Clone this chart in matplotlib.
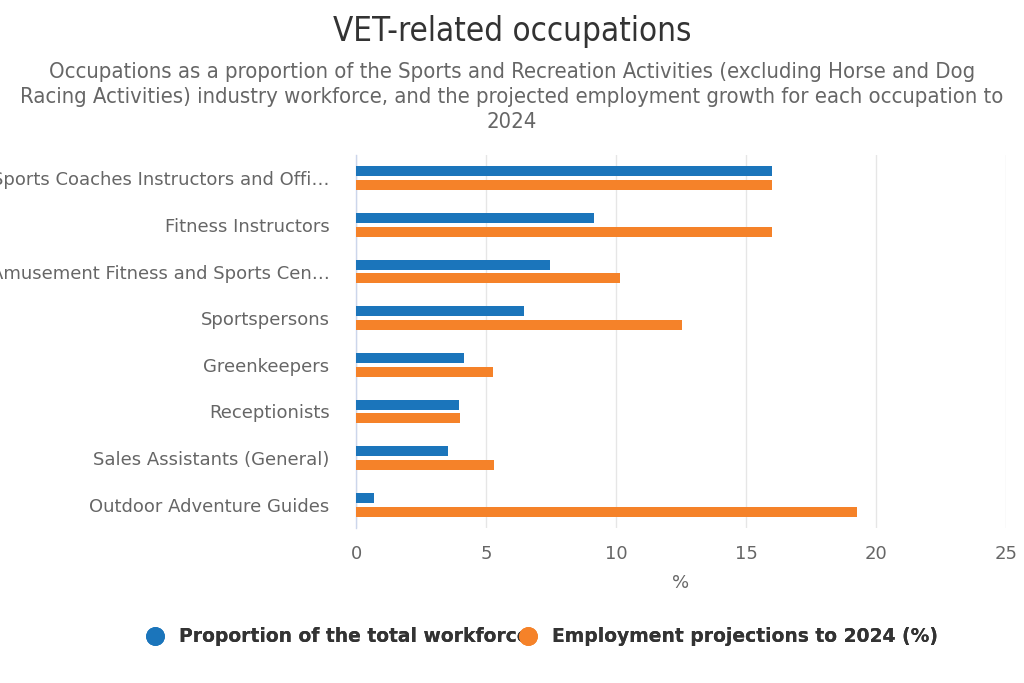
import matplotlib
matplotlib.use("Agg")
import matplotlib.pyplot as plt
import numpy as np
from matplotlib.lines import Line2D

categories = [
    "Sports Coaches Instructors and Offi…",
    "Fitness Instructors",
    "Amusement Fitness and Sports Cen…",
    "Sportspersons",
    "Greenkeepers",
    "Receptionists",
    "Sales Assistants (General)",
    "Outdoor Adventure Guides",
]
proportion = [16.0, 9.15, 7.45, 6.45, 4.15, 3.95, 3.55, 0.7]
projections = [16.0, 16.0, 10.15, 12.55, 5.25, 4.0, 5.3, 19.25]
xticks = [0, 5, 10, 15, 20, 25]

series_names = ["Proportion of the total workforce", "Employment projections to 2024 (%)"]
colors = ["#1B75BB", "#F58229"]

plt.rcParams['font.family'] = ['DejaVu Sans']

fig = plt.figure(figsize=(10.24, 6.83), dpi=100)
ax = fig.add_axes([356/1024, 1 - 528/683, 650/1024, 373/683])

y = np.arange(len(categories))
h = 0.215
off = 0.147
ax.barh(y - off, proportion, height=h, color=colors[0], zorder=3)
ax.barh(y + off, projections, height=h, color=colors[1], zorder=3)

ax.set_ylim(len(categories) - 0.5, -0.5)
ax.set_xlim(0, 25)
ax.set_xticks(xticks)
ax.set_xticklabels([str(t) for t in xticks], color="#666666", fontsize=13)
ax.set_yticks(y)
ax.set_yticklabels(categories, color="#666666", fontsize=13)
ax.tick_params(axis='both', length=0)
ax.tick_params(axis='x', pad=12)
ax.tick_params(axis='y', pad=19)
ax.grid(axis='x', color="#E6E6E6", linewidth=1, zorder=0)
for s in ["top", "right", "bottom"]:
    ax.spines[s].set_visible(False)
ax.spines["left"].set_color("#CCD6EB")
ax.spines["left"].set_linewidth(1)
ax.set_xlabel("%", color="#666666", fontsize=13, labelpad=8)

fig.text(0.5, 1 - 31/683, "VET-related occupations", ha="center", va="center",
         fontsize=23.8, color="#333333", fontstretch="condensed")
sub = ("Occupations as a proportion of the Sports and Recreation Activities (excluding Horse and Dog\n"
       "Racing Activities) industry workforce, and the projected employment growth for each occupation to\n"
       "2024")
fig.text(0.5, 1 - 97/683, sub, ha="center", va="center", fontsize=15.8, color="#666666",
         linespacing=1.32, fontstretch="condensed")

handles = [Line2D([], [], marker='o', linestyle='', markersize=12.5, color=c) for c in colors]
anchors = [146/1024, 519/1024]
for i, (hnd, name, ax_x) in enumerate(zip(handles, series_names, anchors)):
    leg = fig.legend([hnd], [name], loc="center left", bbox_to_anchor=(ax_x, 1 - 637/683),
                     frameon=False, handletextpad=0.75, handlelength=1.0, borderpad=0,
                     borderaxespad=0, prop={'weight': 'bold', 'size': 13.5})
    leg.set_zorder(5 + i)
    for t in leg.get_texts():
        t.set_color("#333333")
    fig.add_artist(leg)

fig.savefig("out.png", dpi=100)
